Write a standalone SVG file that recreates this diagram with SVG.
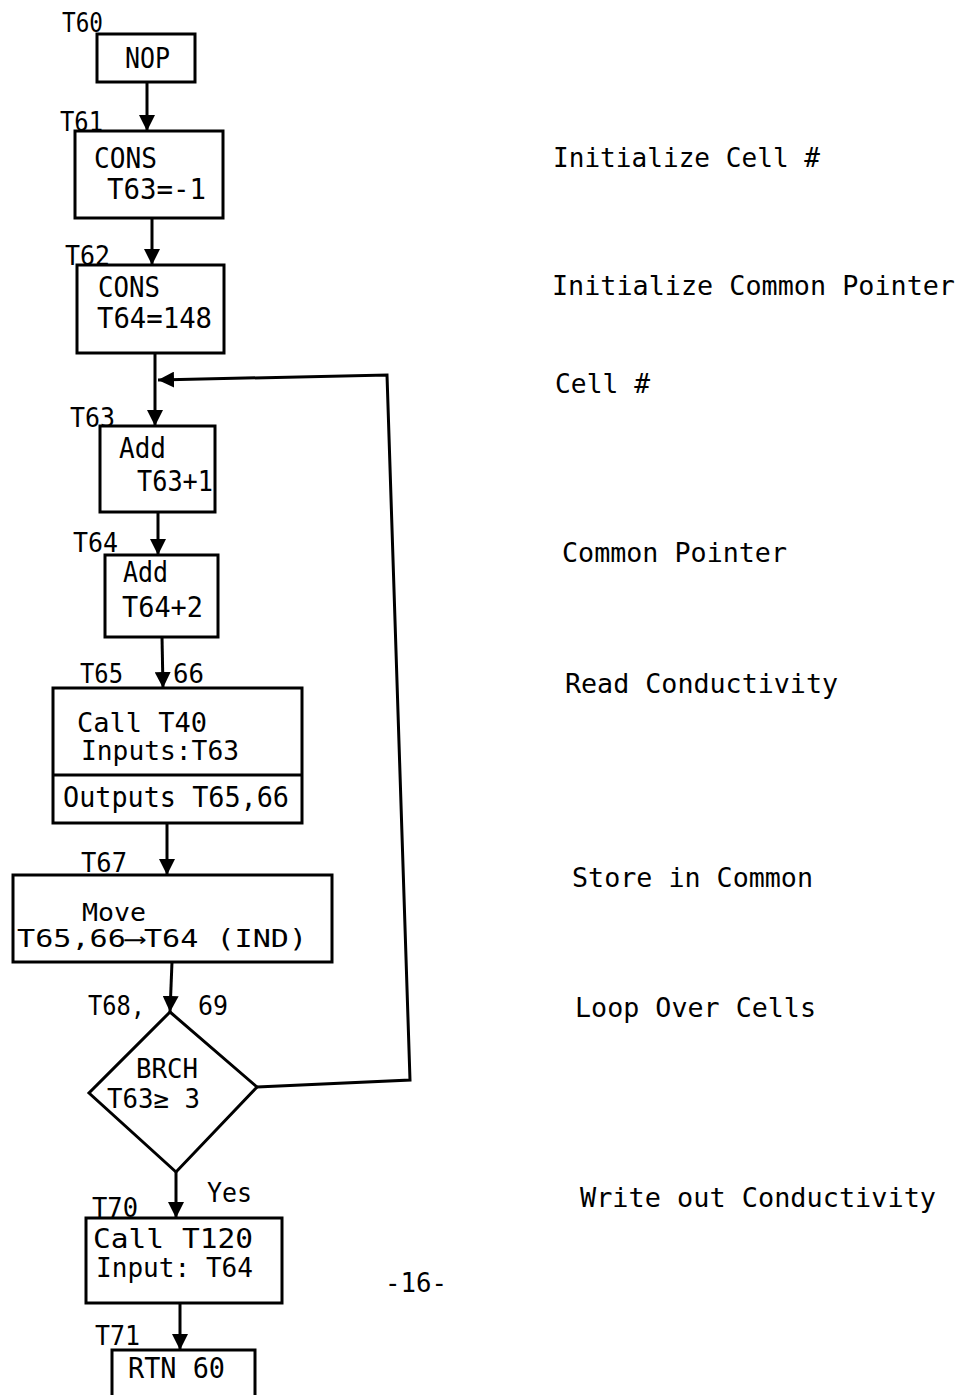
<svg xmlns="http://www.w3.org/2000/svg" width="965" height="1395" viewBox="0 0 965 1395">
<style>
.box{fill:none;stroke:#000;stroke-width:3;stroke-linejoin:miter}
.con{fill:none;stroke:#000;stroke-width:3}
text{font-family:"DejaVu Sans Mono","Liberation Mono",monospace;fill:#000}
.lab{font-size:27px}
.txt{font-size:29px}
.note{font-size:27px}
.t27{font-size:27px}
.t24{font-size:24px}
</style>
<defs>
<marker id="ah" markerUnits="userSpaceOnUse" markerWidth="18" markerHeight="16" refX="16" refY="8" orient="auto">
<path d="M0,0 L16,8 L0,16 z" fill="#000"/>
</marker>
</defs>
<rect width="965" height="1395" fill="#fff"/>

<g id="connectors">
<line class="con" x1="147" y1="82" x2="147" y2="131" marker-end="url(#ah)"/>
<line class="con" x1="152" y1="218" x2="152" y2="265" marker-end="url(#ah)"/>
<line class="con" x1="155" y1="353" x2="155" y2="426" marker-end="url(#ah)"/>
<polyline class="con" points="257,1087 410,1080 387,375 158,380" marker-end="url(#ah)"/>
<line class="con" x1="158" y1="512" x2="158" y2="555" marker-end="url(#ah)"/>
<line class="con" x1="162" y1="637" x2="163" y2="688" marker-end="url(#ah)"/>
<line class="con" x1="167" y1="823" x2="167" y2="875" marker-end="url(#ah)"/>
<line class="con" x1="172" y1="962" x2="170" y2="1012" marker-end="url(#ah)"/>
<line class="con" x1="176" y1="1172" x2="176" y2="1218" marker-end="url(#ah)"/>
<line class="con" x1="180" y1="1303" x2="180" y2="1350" marker-end="url(#ah)"/>
<text class="lab" x="207" y="1202" textLength="45" lengthAdjust="spacingAndGlyphs">Yes</text>
</g>

<g id="T60">
<rect class="box" x="97" y="34" width="98" height="48"/>
<text class="lab" x="62" y="32" textLength="41" lengthAdjust="spacingAndGlyphs">T60</text>
<text class="txt" x="125" y="68" textLength="45" lengthAdjust="spacingAndGlyphs">NOP</text>
</g>

<g id="T61">
<rect class="box" x="75" y="131" width="148" height="87"/>
<text class="lab" x="60" y="131" textLength="43" lengthAdjust="spacingAndGlyphs">T61</text>
<text class="txt" x="94" y="168" textLength="63" lengthAdjust="spacingAndGlyphs">CONS</text>
<text class="txt" x="107" y="199" textLength="99" lengthAdjust="spacingAndGlyphs">T63=-1</text>
</g>

<g id="T62">
<rect class="box" x="77" y="265" width="147" height="88"/>
<text class="lab" x="65" y="265" textLength="45" lengthAdjust="spacingAndGlyphs">T62</text>
<text class="txt" x="98" y="297" textLength="62" lengthAdjust="spacingAndGlyphs">CONS</text>
<text class="txt" x="97" y="328" textLength="115" lengthAdjust="spacingAndGlyphs">T64=148</text>
</g>

<g id="T63">
<rect class="box" x="100" y="426" width="115" height="86"/>
<text class="lab" x="70" y="427" textLength="45" lengthAdjust="spacingAndGlyphs">T63</text>
<text class="txt" x="119" y="458" textLength="47" lengthAdjust="spacingAndGlyphs">Add</text>
<text class="txt" x="137" y="491" textLength="76" lengthAdjust="spacingAndGlyphs">T63+1</text>
</g>

<g id="T64">
<rect class="box" x="105" y="555" width="113" height="82"/>
<text class="lab" x="73" y="552" textLength="45" lengthAdjust="spacingAndGlyphs">T64</text>
<text class="txt" x="123" y="582" textLength="45" lengthAdjust="spacingAndGlyphs">Add</text>
<text class="txt" x="122" y="617" textLength="81" lengthAdjust="spacingAndGlyphs">T64+2</text>
</g>

<g id="T65">
<rect class="box" x="53" y="688" width="249" height="135"/>
<line class="box" x1="53" y1="775" x2="302" y2="775"/>
<text class="lab" x="80" y="683" textLength="43" lengthAdjust="spacingAndGlyphs">T65</text>
<text class="lab" x="173" y="683" textLength="31" lengthAdjust="spacingAndGlyphs">66</text>
<text class="t27" x="77" y="732" textLength="130" lengthAdjust="spacingAndGlyphs">Call T40</text>
<text class="t27" x="81" y="760" textLength="158" lengthAdjust="spacingAndGlyphs">Inputs:T63</text>
<text class="txt" x="63" y="807" textLength="226" lengthAdjust="spacingAndGlyphs">Outputs T65,66</text>
</g>

<g id="T67">
<rect class="box" x="13" y="875" width="319" height="87"/>
<text class="lab" x="81" y="872" textLength="46" lengthAdjust="spacingAndGlyphs">T67</text>
<text class="t24" x="82" y="921" textLength="64" lengthAdjust="spacingAndGlyphs">Move</text>
<text class="t24" x="17" y="947" textLength="290" lengthAdjust="spacingAndGlyphs">T65,66⟶T64 (IND)</text>
</g>

<g id="T68">
<polygon class="box" points="170,1012 257,1087 176,1172 89,1093"/>
<text class="lab" x="88" y="1015" textLength="57" lengthAdjust="spacingAndGlyphs">T68,</text>
<text class="lab" x="198" y="1015" textLength="30" lengthAdjust="spacingAndGlyphs">69</text>
<text class="t27" x="136" y="1078" textLength="62" lengthAdjust="spacingAndGlyphs">BRCH</text>
<text class="t27" x="107" y="1108" textLength="93" lengthAdjust="spacingAndGlyphs">T63≥ 3</text>
</g>

<g id="T70">
<rect class="box" x="86" y="1218" width="196" height="85"/>
<text class="lab" x="92" y="1217" textLength="46" lengthAdjust="spacingAndGlyphs">T70</text>
<text class="t27" x="93" y="1248" textLength="160" lengthAdjust="spacingAndGlyphs">Call  T120</text>
<text class="t27" x="96" y="1277" textLength="157" lengthAdjust="spacingAndGlyphs">Input: T64</text>
</g>

<g id="T71">
<rect class="box" x="112" y="1350" width="143" height="60"/>
<text class="lab" x="95" y="1345" textLength="45" lengthAdjust="spacingAndGlyphs">T71</text>
<text class="txt" x="128" y="1378" textLength="97" lengthAdjust="spacingAndGlyphs">RTN 60</text>
</g>

<g id="notes">
<text class="note" x="553" y="167" textLength="267" lengthAdjust="spacingAndGlyphs">Initialize Cell #</text>
<text class="note" x="552" y="295" textLength="403" lengthAdjust="spacingAndGlyphs">Initialize Common Pointer</text>
<text class="note" x="555" y="393" textLength="95" lengthAdjust="spacingAndGlyphs">Cell #</text>
<text class="note" x="562" y="562" textLength="225" lengthAdjust="spacingAndGlyphs">Common Pointer</text>
<text class="note" x="565" y="693" textLength="273" lengthAdjust="spacingAndGlyphs">Read Conductivity</text>
<text class="note" x="572" y="887" textLength="241" lengthAdjust="spacingAndGlyphs">Store in Common</text>
<text class="note" x="575" y="1017" textLength="241" lengthAdjust="spacingAndGlyphs">Loop Over Cells</text>
<text class="note" x="580" y="1207" textLength="356" lengthAdjust="spacingAndGlyphs">Write out Conductivity</text>
<text class="lab" x="385" y="1292" textLength="62" lengthAdjust="spacingAndGlyphs">-16-</text>
</g>
</svg>
